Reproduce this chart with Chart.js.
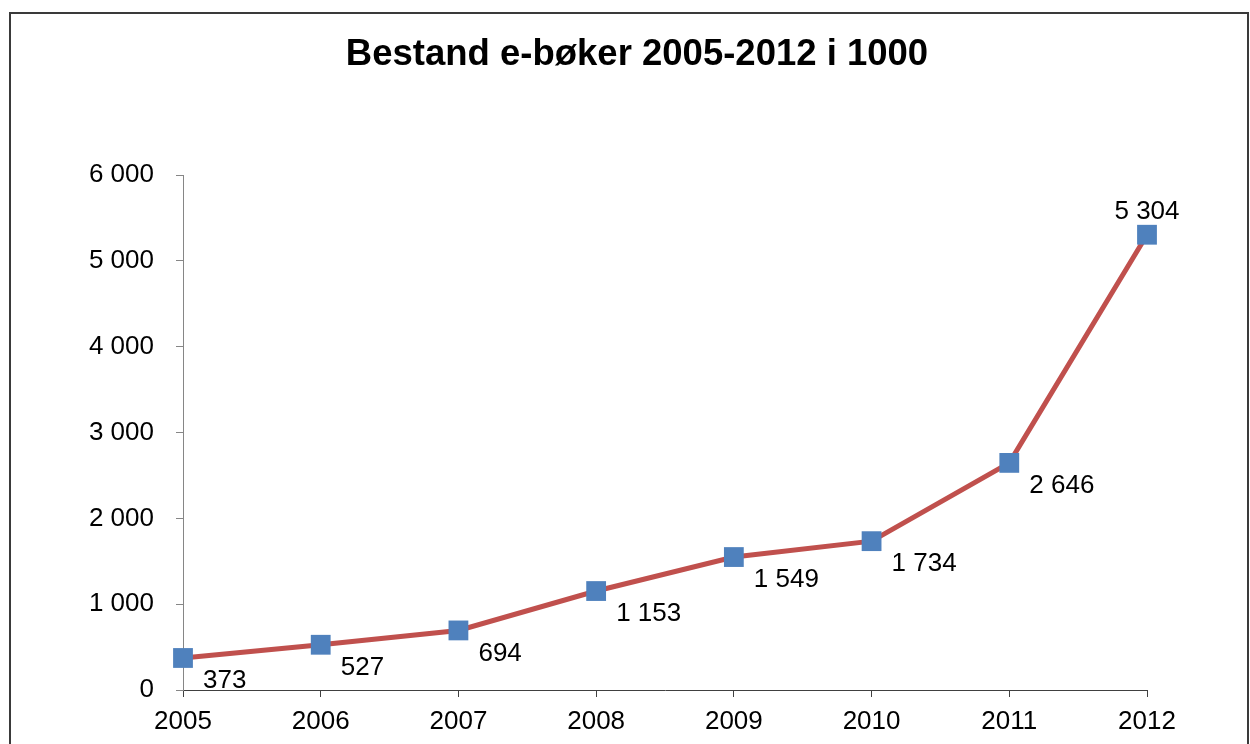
<!DOCTYPE html>
<html>
<head>
<meta charset="utf-8">
<script src="https://cdn.jsdelivr.net/npm/chart.js@4/dist/chart.umd.min.js"></script>
<style>
  html, body { margin: 0; padding: 0; background: #fff; overflow: hidden; }
  #frame { position: absolute; left: 9px; top: 12px; width: 1236px; height: 760px; border: 2px solid #3a3a3a; }
  #chart { position: absolute; left: 0; top: 0; }
</style>
</head>
<body>
<div id="frame"></div>
<canvas id="chart" width="1250" height="744"></canvas>
<script>
const years = ['2005', '2006', '2007', '2008', '2009', '2010', '2011', '2012'];
const bestand = [373, 527, 694, 1153, 1549, 1734, 2646, 5304];
const yTicks = [0, 1000, 2000, 3000, 4000, 5000, 6000];
const tittel = 'Bestand e-bøker 2005-2012 i 1000';

const fmt = n => String(n).replace(/\B(?=(\d{3})+(?!\d))/g, ' ');
const FAMILY = '"Liberation Sans", Arial, sans-serif';

// tittel og verdietiketter (til høyre under punktet, siste over)
const tekster = {
  id: 'tekster',
  afterDraw(chart) {
    const ctx = chart.ctx;
    ctx.save();
    ctx.fillStyle = '#000';
    ctx.textBaseline = 'middle';
    ctx.textAlign = 'center';
    ctx.font = 'bold 36.5px ' + FAMILY;
    ctx.fillText(tittel, 637, 55);

    ctx.font = '26px ' + FAMILY;
    chart.getDatasetMeta(0).data.forEach((pt, i) => {
      const txt = fmt(bestand[i]);
      if (i === bestand.length - 1) {
        ctx.textAlign = 'center';
        ctx.fillText(txt, pt.x, pt.y - 23);
      } else {
        ctx.textAlign = 'left';
        ctx.fillText(txt, pt.x + 20, pt.y + 23);
      }
    });
    ctx.restore();
  }
};

const tickFont = { family: FAMILY, size: 26 };

new Chart(document.getElementById('chart'), {
  type: 'line',
  data: {
    labels: years,
    datasets: [{
      data: bestand,
      borderColor: '#C0504D',
      borderWidth: 5,
      tension: 0,
      pointStyle: 'rect',
      pointRadius: 14,
      pointHoverRadius: 14,
      pointBackgroundColor: '#4F81BD',
      pointBorderColor: '#4F81BD',
      pointBorderWidth: 0
    }]
  },
  options: {
    responsive: false,
    animation: false,
    events: [],
    layout: { padding: { left: 0, right: 103, top: 175, bottom: 0 } },
    scales: {
      x: {
        offset: false,
        grid: { drawOnChartArea: false, drawTicks: true, tickLength: 7, color: '#404040' },
        border: { color: '#404040', width: 1 },
        ticks: { color: '#000', font: tickFont, padding: 9, maxRotation: 0 },
        afterFit: s => { s.height = 54; }
      },
      y: {
        min: 0,
        max: 6000,
        afterBuildTicks: s => { s.ticks = yTicks.map(v => ({ value: v })); },
        grid: { drawOnChartArea: false, drawTicks: true, tickLength: 7, color: '#868686' },
        border: { color: '#868686', width: 1 },
        ticks: { color: '#000', font: tickFont, padding: 22, callback: v => fmt(v) },
        afterFit: s => { s.width = 183; }
      }
    },
    plugins: {
      legend: { display: false },
      tooltip: { enabled: false },
      title: { display: false }
    }
  },
  plugins: [tekster]
});
</script>
</body>
</html>
